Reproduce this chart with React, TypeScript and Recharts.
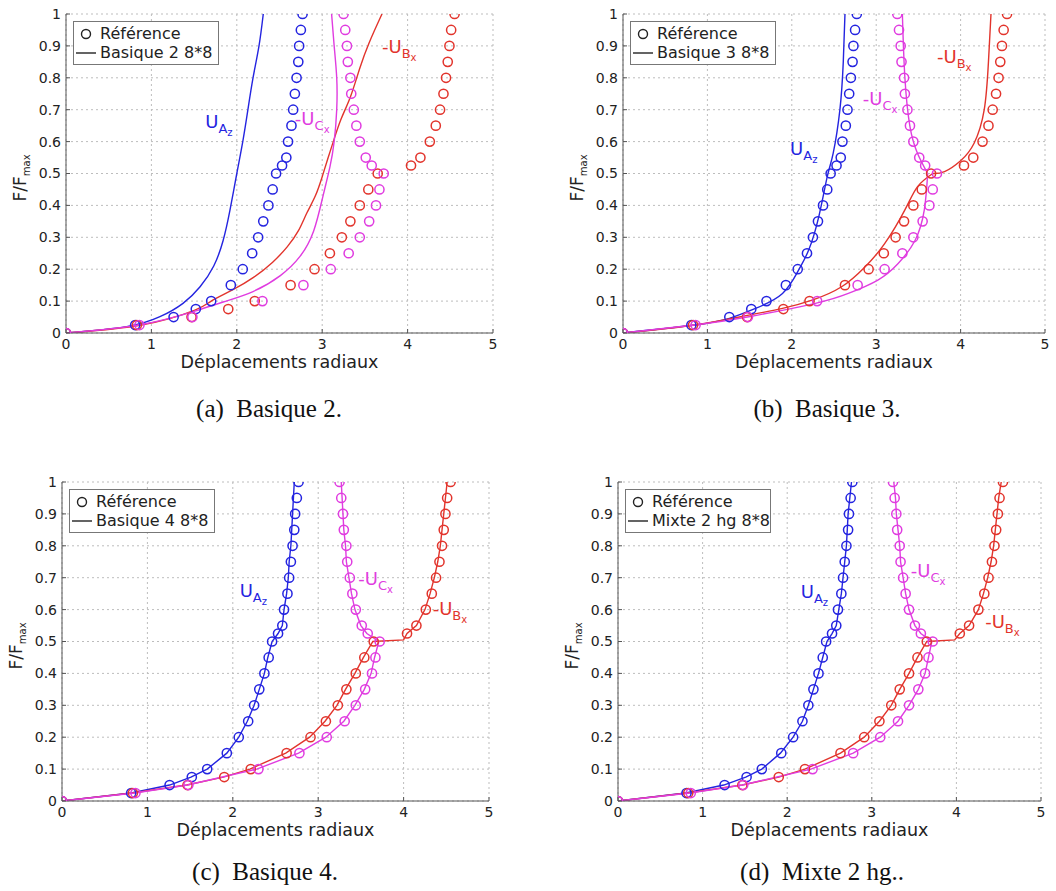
import React from 'react';
import { ComposedChart, Line, Scatter, XAxis, YAxis, CartesianGrid, ReferenceDot } from 'recharts';

const BLUE = '#2424e0';
const RED = '#e2342c';
const MAG = '#e03ce0';
const SANS = '"DejaVu Sans", Verdana, sans-serif';
const SERIF = '"Liberation Serif", "Times New Roman", serif';

const X_TICKS = [0, 1, 2, 3, 4, 5];
const Y_TICKS = [0, 0.1, 0.2, 0.3, 0.4, 0.5, 0.6, 0.7, 0.8, 0.9, 1];

// reference solution (circles), identical in every panel: [displacement, F/Fmax]
const refAz = [[0, 0], [0.81, 0.025], [1.26, 0.05], [1.52, 0.075], [1.7, 0.1], [1.93, 0.15], [2.07, 0.2], [2.18, 0.25], [2.25, 0.3], [2.31, 0.35], [2.37, 0.4], [2.42, 0.45], [2.46, 0.5], [2.53, 0.525], [2.58, 0.55], [2.6, 0.6], [2.64, 0.65], [2.66, 0.7], [2.68, 0.75], [2.7, 0.8], [2.72, 0.85], [2.73, 0.9], [2.75, 0.95], [2.77, 1]];
const refCx = [[0, 0], [0.86, 0.025], [1.48, 0.05], [2.3, 0.1], [2.78, 0.15], [3.1, 0.2], [3.31, 0.25], [3.44, 0.3], [3.55, 0.35], [3.63, 0.4], [3.67, 0.45], [3.72, 0.5], [3.58, 0.525], [3.51, 0.55], [3.44, 0.6], [3.4, 0.65], [3.37, 0.7], [3.34, 0.75], [3.33, 0.8], [3.3, 0.85], [3.29, 0.9], [3.27, 0.95], [3.25, 1]];
const refBx = [[0, 0], [0.83, 0.025], [1.47, 0.05], [1.9, 0.075], [2.21, 0.1], [2.63, 0.15], [2.91, 0.2], [3.09, 0.25], [3.23, 0.3], [3.33, 0.35], [3.44, 0.4], [3.54, 0.45], [3.65, 0.5], [4.04, 0.525], [4.15, 0.55], [4.26, 0.6], [4.33, 0.65], [4.38, 0.7], [4.42, 0.75], [4.45, 0.8], [4.47, 0.85], [4.49, 0.9], [4.51, 0.95], [4.55, 1]];

// Basique 2
const b2Az = [[0, 0], [0.71, 0.02], [1.1, 0.051], [1.37, 0.093], [1.57, 0.145], [1.73, 0.21], [1.84, 0.29], [1.92, 0.385], [2.0, 0.5], [2.07, 0.6], [2.13, 0.7], [2.19, 0.8], [2.26, 0.9], [2.31, 1]];
const b2Cx = [[0, 0], [0.85, 0.025], [1.5, 0.068], [1.85, 0.098], [2.19, 0.13], [2.51, 0.18], [2.74, 0.24], [2.9, 0.32], [3.01, 0.43], [3.09, 0.52], [3.14, 0.6], [3.17, 0.7], [3.17, 0.8], [3.14, 0.9], [3.11, 1]];
const b2Bx = [[0, 0], [0.88, 0.025], [1.51, 0.072], [1.7, 0.1], [1.95, 0.135], [2.2, 0.175], [2.42, 0.222], [2.59, 0.27], [2.72, 0.32], [2.82, 0.376], [2.92, 0.43], [3.0, 0.49], [3.07, 0.55], [3.13, 0.6], [3.22, 0.67], [3.33, 0.74], [3.44, 0.83], [3.55, 0.91], [3.7, 1]];

// Basique 3
const b3Az = [[0, 0], [0.85, 0.025], [1.26, 0.046], [1.57, 0.077], [1.89, 0.124], [2.08, 0.197], [2.2, 0.26], [2.32, 0.365], [2.42, 0.49], [2.49, 0.563], [2.57, 0.7], [2.61, 0.85], [2.63, 1]];
const b3Cx = [[0, 0], [0.85, 0.025], [1.49, 0.051], [2.28, 0.093], [2.67, 0.124], [3.02, 0.166], [3.26, 0.218], [3.46, 0.29], [3.57, 0.386], [3.61, 0.5], [3.49, 0.563], [3.4, 0.647], [3.34, 0.8], [3.31, 1]];
const b3Bx = [[0, 0], [0.85, 0.025], [1.49, 0.056], [1.89, 0.077], [2.24, 0.103], [2.59, 0.145], [2.87, 0.208], [3.1, 0.28], [3.34, 0.386], [3.49, 0.459], [3.67, 0.5], [3.81, 0.506], [4.0, 0.54], [4.16, 0.595], [4.28, 0.7], [4.33, 0.85], [4.36, 1]];

// Basique 4
const b4Az = [[0, 0], [0.81, 0.025], [1.26, 0.05], [1.51, 0.075], [1.7, 0.1], [1.93, 0.15], [2.07, 0.2], [2.17, 0.25], [2.25, 0.3], [2.31, 0.35], [2.37, 0.4], [2.41, 0.45], [2.46, 0.5], [2.53, 0.525], [2.58, 0.55], [2.6, 0.6], [2.63, 0.65], [2.65, 0.7], [2.66, 0.75], [2.68, 0.8], [2.69, 0.85], [2.7, 0.9], [2.71, 0.95], [2.72, 1]];
const b4Cx = [[0, 0], [0.85, 0.025], [1.47, 0.05], [2.28, 0.1], [2.77, 0.15], [3.09, 0.2], [3.3, 0.25], [3.43, 0.3], [3.54, 0.35], [3.62, 0.4], [3.66, 0.45], [3.71, 0.5], [3.57, 0.525], [3.5, 0.55], [3.43, 0.6], [3.39, 0.65], [3.36, 0.7], [3.33, 0.75], [3.32, 0.8], [3.3, 0.85], [3.29, 0.9], [3.28, 0.95], [3.27, 1]];
const b4Bx = [[0, 0], [0.82, 0.025], [1.46, 0.05], [1.89, 0.075], [2.2, 0.1], [2.62, 0.15], [2.9, 0.2], [3.08, 0.25], [3.22, 0.3], [3.32, 0.35], [3.43, 0.4], [3.53, 0.45], [3.64, 0.5], [4.0, 0.505], [4.04, 0.525], [4.15, 0.55], [4.25, 0.6], [4.31, 0.65], [4.36, 0.7], [4.4, 0.75], [4.43, 0.8], [4.45, 0.85], [4.47, 0.9], [4.49, 0.95], [4.51, 1]];

// Mixte 2 hg
const m2Az = [[0, 0], [0.8, 0.025], [1.25, 0.05], [1.51, 0.075], [1.7, 0.1], [1.92, 0.15], [2.07, 0.2], [2.18, 0.25], [2.25, 0.3], [2.31, 0.35], [2.37, 0.4], [2.42, 0.45], [2.47, 0.5], [2.53, 0.525], [2.58, 0.55], [2.61, 0.6], [2.64, 0.65], [2.66, 0.7], [2.68, 0.75], [2.7, 0.8], [2.71, 0.85], [2.72, 0.9], [2.74, 0.95], [2.76, 1]];
const m2Cx = [[0, 0], [0.85, 0.025], [1.47, 0.05], [2.28, 0.1], [2.78, 0.15], [3.1, 0.2], [3.31, 0.25], [3.44, 0.3], [3.55, 0.35], [3.63, 0.4], [3.67, 0.45], [3.71, 0.5], [3.58, 0.525], [3.51, 0.55], [3.44, 0.6], [3.4, 0.65], [3.37, 0.7], [3.34, 0.75], [3.33, 0.8], [3.31, 0.85], [3.29, 0.9], [3.28, 0.95], [3.26, 1]];
const m2Bx = [[0, 0], [0.82, 0.025], [1.47, 0.05], [1.9, 0.075], [2.21, 0.1], [2.63, 0.15], [2.91, 0.2], [3.09, 0.25], [3.23, 0.3], [3.33, 0.35], [3.44, 0.4], [3.54, 0.45], [3.65, 0.5], [3.98, 0.505], [4.04, 0.525], [4.15, 0.55], [4.26, 0.6], [4.32, 0.65], [4.37, 0.7], [4.41, 0.75], [4.44, 0.8], [4.46, 0.85], [4.48, 0.9], [4.5, 0.95], [4.53, 1]];

const legendNames = ['Basique 2 8*8', 'Basique 3 8*8', 'Basique 4 8*8', 'Mixte 2 hg 8*8'];
const captions = ['(a)\u2002Basique 2.', '(b)\u2002Basique 3.', '(c)\u2002Basique 4.', '(d)\u2002Mixte 2 hg..'];

// label anchors (data coords) for U_Az, -U_Cx, -U_Bx in each panel
const labelsA = [[1.63, 0.643], [2.68, 0.652], [3.7, 0.878]];
const labelsB = [[1.98, 0.558], [2.84, 0.715], [3.72, 0.846]];
const labelsC = [[2.08, 0.64], [3.47, 0.677], [4.34, 0.583]];
const labelsD = [[2.16, 0.635], [3.46, 0.703], [4.34, 0.541]];

const toPts = (rows: number[][]) => rows.map(([x, y]) => ({ x, y }));

const Circle = (color: string) => (props: any) => (
  <circle cx={props.cx} cy={props.cy} r={4.6} fill="none" stroke={color} strokeWidth={1.5} />
);

const SubLabel = ({ cx, cy, color, pre, sub, subsub }: any) => (
  <text x={cx} y={cy} fill={color} fontFamily={SANS} fontSize={18}>
    {pre}U
    <tspan dy={5} fontSize={13}>{sub}</tspan>
    <tspan dy={3} fontSize={10}>{subsub}</tspan>
  </text>
);

const YTitle = (props: any) => {
  const vb = props.viewBox || { x: 0, y: 14, width: 40, height: 319 };
  const x = vb.x + vb.width - 40;
  const y = vb.y + vb.height / 2 + 28;
  return (
    <text transform={`translate(${x},${y}) rotate(-90)`} fill="#222" fontFamily={SANS} fontSize={17}>
      F/F<tspan dy={4} fontSize={10}>max</tspan>
    </text>
  );
};

const XTitle = (props: any) => {
  const vb = props.viewBox || { x: 66, y: 333, width: 427, height: 20 };
  return (
    <text x={vb.x + vb.width / 2} y={vb.y + 35} textAnchor="middle" fill="#222" fontFamily={SANS} fontSize={17.5}>
      Déplacements radiaux
    </text>
  );
};

const tickStyle = { fontSize: 14, fill: '#222', fontFamily: SANS };

type PanelProps = {
  left: number; top: number; ml: number; mr: number;
  az: number[][]; cx: number[][]; bx: number[][];
  smooth: boolean; corners: (number | null)[];
  labels: number[][]; name: string; caption: string; capX: number; capBase: number;
};

const Panel = ({ left, top, ml, mr, az, cx, bx, smooth, corners, labels, name, caption, capX, capBase }: PanelProps) => {
  const plotLeft = ml + 40;
  const series = [
    { line: az, ref: refAz, color: BLUE, corner: corners[0] },
    { line: bx, ref: refBx, color: RED, corner: corners[1] },
    { line: cx, ref: refCx, color: MAG, corner: corners[2] },
  ];
  // a curve with a sharp kink is drawn as two smooth branches meeting at the kink
  const pieces: { pts: number[][]; color: string }[] = [];
  series.forEach((s) => {
    if (s.corner == null) pieces.push({ pts: s.line, color: s.color });
    else {
      pieces.push({ pts: s.line.slice(0, s.corner + 1), color: s.color });
      pieces.push({ pts: s.line.slice(s.corner), color: s.color });
    }
  });
  const ann = [
    { pos: labels[0], color: BLUE, pre: '', sub: 'A', subsub: 'z' },
    { pos: labels[1], color: MAG, pre: '-', sub: 'C', subsub: 'x' },
    { pos: labels[2], color: RED, pre: '-', sub: 'B', subsub: 'x' },
  ];
  return (
    <>
      <div style={{ position: 'absolute', left, top, width: 528, height: 380 }}>
        <ComposedChart width={528} height={380} margin={{ top: 14, right: mr, bottom: 27, left: ml }}>
          <CartesianGrid stroke="#bdbdbd" strokeDasharray="2 3" />
          <XAxis type="number" dataKey="x" domain={[0, 5]} ticks={X_TICKS} allowDataOverflow height={20}
            tickSize={-4} tickMargin={10} tick={tickStyle} stroke="#555" label={<XTitle />} />
          <YAxis type="number" dataKey="y" domain={[0, 1]} ticks={Y_TICKS} allowDataOverflow width={40}
            tickSize={-4} tickMargin={9} tick={tickStyle} stroke="#555" label={<YTitle />} />
          <XAxis xAxisId="top" orientation="top" type="number" dataKey="x" domain={[0, 5]} ticks={X_TICKS}
            allowDataOverflow height={0} tickSize={-4} tick={false} stroke="#555" />
          <YAxis yAxisId="right" orientation="right" type="number" dataKey="y" domain={[0, 1]} ticks={Y_TICKS}
            allowDataOverflow width={0} tickSize={-4} tick={false} stroke="#555" />
          {pieces.map((s, i) => (
            <Line key={`l${i}`} data={toPts(s.pts)} dataKey="y" type={smooth ? 'natural' : 'linear'} stroke={s.color}
              strokeWidth={1.4} dot={false} isAnimationActive={false} />
          ))}
          {series.map((s, i) => (
            <Scatter key={`s${i}`} data={toPts(s.ref)} dataKey="y" shape={Circle(s.color)} isAnimationActive={false} />
          ))}
          {ann.map((a, i) => (
            <ReferenceDot key={`a${i}`} x={a.pos[0]} y={a.pos[1]} r={0} ifOverflow="visible"
              shape={(p: any) => <SubLabel cx={p.cx} cy={p.cy} color={a.color} pre={a.pre} sub={a.sub} subsub={a.subsub} />} />
          ))}
        </ComposedChart>
        <div style={{
          position: 'absolute', left: plotLeft + 7, top: 21, width: 146, height: 44, border: '1.5px solid #777',
          background: '#fff', fontFamily: SANS, fontSize: 16, color: '#222', lineHeight: '19px', boxSizing: 'border-box',
        }}>
          <div style={{ display: 'flex', alignItems: 'center', height: 19, marginTop: 2 }}>
            <svg width={26} height={19}><circle cx={12} cy={10} r={4.5} fill="none" stroke="#222" strokeWidth={1.4} /></svg>
            <span>Référence</span>
          </div>
          <div style={{ display: 'flex', alignItems: 'center', height: 19 }}>
            <svg width={26} height={19}><line x1={2} x2={22} y1={10} y2={10} stroke="#222" strokeWidth={1.4} /></svg>
            <span style={{ whiteSpace: 'nowrap' }}>{name}</span>
          </div>
        </div>
      </div>
      <div style={{
        position: 'absolute', left: capX - 150, top: capBase - 21, width: 300, textAlign: 'center',
        fontFamily: SERIF, fontSize: 25, lineHeight: '25px', color: '#111',
      }}>{caption}</div>
    </>
  );
};

export default function App() {
  return (
    <div style={{ position: 'absolute', left: 0, top: 0, width: 1056, height: 891, background: '#fff' }}>
      <Panel left={0} top={0} ml={26} mr={35} az={b2Az} cx={b2Cx} bx={b2Bx} smooth corners={[null, null, null]}
        labels={labelsA} name={legendNames[0]} caption={captions[0]} capX={269} capBase={417} />
      <Panel left={528} top={0} ml={55} mr={11} az={b3Az} cx={b3Cx} bx={b3Bx} smooth corners={[null, 10, 9]}
        labels={labelsB} name={legendNames[1]} caption={captions[1]} capX={827} capBase={417} />
      <Panel left={0} top={468} ml={22} mr={39} az={b4Az} cx={b4Cx} bx={b4Bx} smooth={false} corners={[null, null, null]}
        labels={labelsC} name={legendNames[2]} caption={captions[2]} capX={265} capBase={880} />
      <Panel left={528} top={468} ml={50} mr={15} az={m2Az} cx={m2Cx} bx={m2Bx} smooth={false} corners={[null, null, null]}
        labels={labelsD} name={legendNames[3]} caption={captions[3]} capX={822} capBase={880} />
    </div>
  );
}
